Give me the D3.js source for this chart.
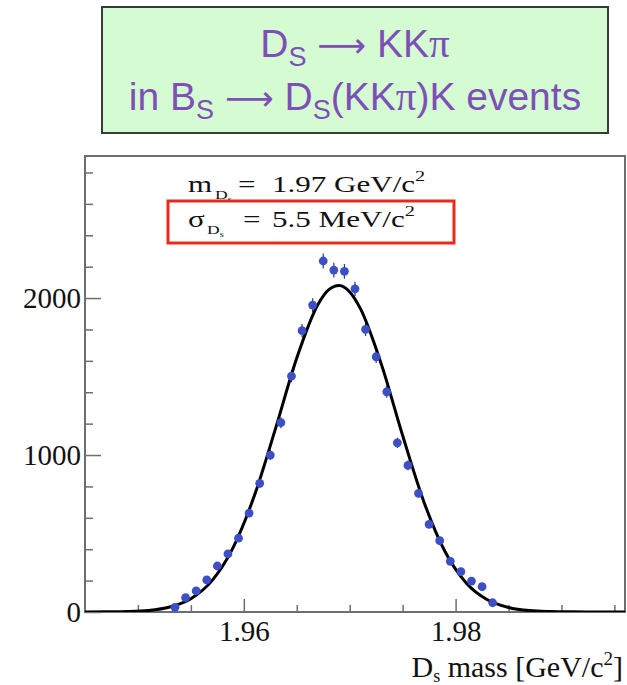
<!DOCTYPE html>
<html>
<head>
<meta charset="utf-8">
<script src="https://cdn.jsdelivr.net/npm/d3@7"></script>
<style>
  html, body { margin: 0; padding: 0; background: #fff; }
  svg { display: block; }
</style>
</head>
<body>
<div id="chart"></div>
<script>
// Ds -> KKpi invariant mass, histogram bins (GeV/c^2) and entries
const binCenters = [1.9535, 1.9545, 1.9555, 1.9565, 1.9575, 1.9585, 1.9595, 1.9605, 1.9615, 1.9625,
                    1.9635, 1.9645, 1.9655, 1.9665, 1.9675, 1.9685, 1.9695, 1.9705, 1.9715, 1.9725,
                    1.9735, 1.9745, 1.9755, 1.9765, 1.9775, 1.9785, 1.9795, 1.9805, 1.9815, 1.9825,
                    1.9835];
const binCounts = [30, 91, 134, 204, 293, 370, 470, 630, 820, 1000,
                   1206, 1503, 1792, 1955, 2236, 2178, 2170, 2059, 1800, 1626,
                   1403, 1078, 934, 756, 558, 454, 323, 257, 197, 161,
                   59];

// fitted curve
const fitX = [1.945, 1.947, 1.949, 1.951, 1.953, 1.955, 1.957, 1.959, 1.961, 1.963,
              1.965, 1.967, 1.968, 1.969, 1.970, 1.971, 1.973, 1.975, 1.977, 1.979,
              1.981, 1.983, 1.985, 1.987, 1.989, 1.991, 1.993, 1.996];
const fitY = [0, 1, 3, 10, 32, 85, 200, 412, 742, 1170,
              1618, 1959, 2052, 2080, 2039, 1934, 1576, 1124, 703, 385,
              185, 78, 29, 9, 3, 1, 0, 0];

const xMajorTicks = [1.96, 1.98];
const xMinorTicks = [1.95, 1.955, 1.965, 1.97, 1.975, 1.985, 1.99, 1.995];
const yMajorTicks = [0, 1000, 2000];
const yMinorTicks = [200, 400, 600, 800, 1200, 1400, 1600, 1800, 2200, 2400, 2600, 2800];

const width = 627, height = 685;
const frame = { left: 85, right: 625, top: 156, bottom: 612 };
const serif = "'Liberation Serif', 'DejaVu Serif', serif";
const sans = "'Liberation Sans', Arial, sans-serif";
const purple = '#7e4fb6';
const dotColor = '#3d4fc4';

const svg = d3.select('#chart').append('svg')
    .attr('width', width)
    .attr('height', height);

// Title box
svg.append('rect')
    .attr('x', 102).attr('y', 7)
    .attr('width', 506).attr('height', 126)
    .attr('fill', '#d5fbd3')
    .attr('stroke', '#3a3a3a')
    .attr('stroke-width', 2);

function titleLine(yPos, parts) {
    const t = svg.append('text')
        .attr('x', 355).attr('y', yPos)
        .attr('text-anchor', 'middle')
        .style('font-family', sans).style('font-size', '39px')
        .attr('fill', purple);
    parts.forEach(p => {
        const s = t.append('tspan').text(p.text);
        if (p.sub) s.attr('dy', 9).style('font-size', '27px');
        if (p.up) s.attr('dy', -9);
        if (p.arrow) s.style('font-family', "'DejaVu Sans', sans-serif").style('font-size', '34px');
        if (p.serif) s.style('font-family', serif).style('font-size', '41px');
    });
}

titleLine(57, [
    { text: 'D' }, { text: 'S', sub: true },
    { text: ' ', up: true }, { text: '\u27f6', arrow: true }, { text: ' KK' }, { text: '\u03c0', serif: true }
]);
titleLine(110, [
    { text: 'in B' }, { text: 'S', sub: true },
    { text: ' ', up: true }, { text: '\u27f6', arrow: true }, { text: ' D' }, { text: 'S', sub: true },
    { text: '(KK', up: true }, { text: '\u03c0', serif: true }, { text: ')K events' }
]);

// Scales
const x = d3.scaleLinear().domain([1.945, 1.996]).range([frame.left, frame.right]);
const y = d3.scaleLinear().domain([0, 2905]).range([frame.bottom, frame.top]);

// Frame
svg.append('rect')
    .attr('x', frame.left).attr('y', frame.top)
    .attr('width', frame.right - frame.left)
    .attr('height', frame.bottom - frame.top)
    .attr('fill', 'none')
    .attr('stroke', '#6e6e6e')
    .attr('stroke-width', 2);

// Axes with inward ticks
const xAxis = svg.append('g').attr('transform', `translate(0,${frame.bottom})`);
xAxis.call(d3.axisBottom(x).tickValues(xMinorTicks).tickSize(-7).tickFormat(''));
xAxis.append('g').call(d3.axisBottom(x).tickValues(xMajorTicks).tickSize(-13).tickPadding(8)
    .tickFormat(d3.format('.2f')));
xAxis.selectAll('.domain').remove();
xAxis.selectAll('line').attr('stroke', '#6e6e6e').attr('stroke-width', 1.5);
xAxis.selectAll('text')
    .attr('fill', '#111')
    .style('font-family', serif).style('font-size', '29px');

const yAxis = svg.append('g').attr('transform', `translate(${frame.left},0)`);
yAxis.call(d3.axisLeft(y).tickValues(yMinorTicks).tickSize(-8).tickFormat(''));
yAxis.append('g').call(d3.axisLeft(y).tickValues(yMajorTicks).tickSize(-16).tickPadding(4)
    .tickFormat(d3.format('d')));
yAxis.selectAll('.domain').remove();
yAxis.selectAll('line').attr('stroke', '#6e6e6e').attr('stroke-width', 1.5);
yAxis.selectAll('text')
    .attr('fill', '#111')
    .style('font-family', serif).style('font-size', '29px');

// Axis title
const xt = svg.append('text')
    .attr('x', 623).attr('y', 677)
    .attr('text-anchor', 'end')
    .style('font-family', serif).style('font-size', '30px')
    .attr('fill', '#111');
xt.append('tspan').text('D');
xt.append('tspan').attr('dy', 5).style('font-size', '18px').text('s');
xt.append('tspan').attr('dy', -5).text(' mass [GeV/c');
xt.append('tspan').attr('dy', -12).style('font-size', '19px').text('2');
xt.append('tspan').attr('dy', 12).text(']');

// Clip
svg.append('clipPath').attr('id', 'plotClip')
  .append('rect')
    .attr('x', frame.left).attr('y', frame.top)
    .attr('width', frame.right - frame.left)
    .attr('height', frame.bottom - frame.top);

const plot = svg.append('g').attr('clip-path', 'url(#plotClip)');

// Error bars (Poisson)
plot.append('g')
    .selectAll('line')
    .data(binCenters.map((c, i) => ({ x: c, n: binCounts[i] })))
    .enter()
    .append('line')
    .attr('x1', d => x(d.x)).attr('x2', d => x(d.x))
    .attr('y1', d => y(d.n - Math.sqrt(d.n)))
    .attr('y2', d => y(d.n + Math.sqrt(d.n)))
    .attr('stroke', '#2a3590')
    .attr('stroke-width', 1.2);

// Fit curve
const fitLine = d3.line()
    .x(d => x(d[0]))
    .y(d => y(d[1]))
    .curve(d3.curveMonotoneX);

plot.append('path')
    .datum(fitX.map((v, i) => [v, fitY[i]]))
    .attr('d', fitLine)
    .attr('fill', 'none')
    .attr('stroke', '#000')
    .attr('stroke-width', 3);

// Data points
plot.append('g')
    .selectAll('circle')
    .data(binCenters.map((c, i) => ({ x: c, n: binCounts[i] })))
    .enter()
    .append('circle')
    .attr('cx', d => x(d.x))
    .attr('cy', d => y(d.n))
    .attr('r', 4.4)
    .style('fill', dotColor);

// Fit result annotation (text is stretched horizontally in the original)
const stretch = 1.35, x0 = 188;
const ux = px => x0 + (px - x0) / stretch;
function fitLabel(yPos, symbol, subX, eqX, value) {
    const g = svg.append('g')
        .attr('transform', `translate(${x0},0) scale(${stretch},1) translate(${-x0},0)`)
        .style('font-family', serif)
        .attr('fill', '#111');
    g.append('text').attr('x', x0).attr('y', yPos).style('font-size', '23px').text(symbol);
    const sub = g.append('text').attr('x', ux(subX)).attr('y', yPos + 7).style('font-size', '13px');
    sub.append('tspan').text('D');
    sub.append('tspan').attr('dy', 3).style('font-size', '8px').text('s');
    g.append('text').attr('x', ux(eqX)).attr('y', yPos).style('font-size', '23px').text('=');
    const v = g.append('text').attr('x', ux(272)).attr('y', yPos).style('font-size', '23px');
    v.append('tspan').text(value);
    v.append('tspan').attr('dy', -11).style('font-size', '15px').text('2');
}
fitLabel(192, 'm', 215, 238, '1.97 GeV/c');
fitLabel(227, '\u03c3', 207, 243, '5.5 MeV/c');

svg.append('rect')
    .attr('x', 168).attr('y', 201)
    .attr('width', 286).attr('height', 42)
    .attr('fill', 'none')
    .attr('stroke', '#e82a1c')
    .attr('stroke-width', 3);
</script>
</body>
</html>
